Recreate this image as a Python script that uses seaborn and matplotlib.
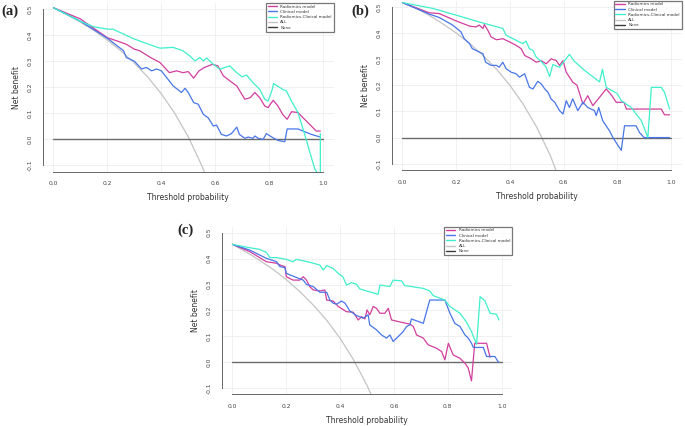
import numpy as np
import pandas as pd
import seaborn as sns
import matplotlib
matplotlib.use('Agg')
import matplotlib.pyplot as plt
from matplotlib.lines import Line2D


# ---- panel (a) ----
a_rad_x = [0, 0.1, 0.2, 0.235, 0.27, 0.3, 0.32, 0.36, 0.395, 0.43, 0.457, 0.48, 0.5, 0.52, 0.54, 0.56, 0.59, 0.61,
           0.63, 0.655, 0.68, 0.71, 0.73, 0.747, 0.765, 0.784, 0.796, 0.815, 0.833, 0.85, 0.867, 0.883, 0.907,
           0.926, 0.95, 0.975, 0.99]
a_rad_y = [0.505, 0.462, 0.39, 0.378, 0.365, 0.346, 0.34, 0.314, 0.295, 0.256, 0.263, 0.256, 0.26, 0.235, 0.263,
           0.276, 0.288, 0.282, 0.244, 0.224, 0.205, 0.154, 0.16, 0.18, 0.16, 0.128, 0.122, 0.15, 0.128, 0.096,
           0.077, 0.106, 0.103, 0.083, 0.058, 0.032, 0.032]
a_cli_x = [0, 0.1, 0.2, 0.235, 0.26, 0.27, 0.3, 0.327, 0.345, 0.364, 0.383, 0.4, 0.42, 0.444, 0.475, 0.488, 0.5,
           0.52, 0.537, 0.556, 0.574, 0.593, 0.605, 0.623, 0.642, 0.66, 0.68, 0.69, 0.71, 0.722, 0.74, 0.747, 0.76,
           0.778, 0.79, 0.81, 0.833, 0.858, 0.867, 0.907, 0.926, 0.957, 0.99]
a_cli_y = [0.505, 0.453, 0.388, 0.36, 0.34, 0.314, 0.3, 0.27, 0.276, 0.263, 0.27, 0.263, 0.237, 0.205, 0.18, 0.196,
           0.18, 0.141, 0.135, 0.096, 0.083, 0.051, 0.055, 0.019, 0.013, 0.022, 0.047, 0.019, 0.004, 0.009, 0.004,
           0.013, 0.004, 0.0, 0.022, 0.009, -0.004, -0.009, 0.04, 0.04, 0.032, 0.019, 0.009]
a_com_x = [0, 0.05, 0.1, 0.15, 0.2, 0.22, 0.26, 0.3, 0.345, 0.395, 0.444, 0.48, 0.506, 0.525, 0.543, 0.556, 0.568,
           0.593, 0.617, 0.636, 0.654, 0.68, 0.7, 0.716, 0.74, 0.765, 0.784, 0.796, 0.81, 0.817, 0.85, 0.864,
           0.883, 0.907, 0.932, 0.957, 0.97, 0.985, 0.99, 0.99]
a_com_y = [0.505, 0.479, 0.453, 0.432, 0.423, 0.423, 0.404, 0.385, 0.368, 0.35, 0.353, 0.34, 0.32, 0.301, 0.314,
           0.301, 0.312, 0.288, 0.269, 0.276, 0.282, 0.256, 0.24, 0.247, 0.218, 0.192, 0.154, 0.147, 0.186, 0.214,
           0.192, 0.186, 0.147, 0.103, 0.019, -0.07, -0.115, -0.135, -0.135, 0.022]
a_all_x = [0, 0.05, 0.1, 0.15, 0.2, 0.25, 0.3, 0.35, 0.4, 0.45, 0.5, 0.55, 0.57]
a_all_y = [0.505, 0.479, 0.45, 0.418, 0.381, 0.34, 0.293, 0.239, 0.175, 0.1, 0.01, -0.1, -0.151]

# ---- panel (b) ----
b_rad_x = [0, 0.1, 0.137, 0.2, 0.25, 0.274, 0.286, 0.3, 0.305, 0.318, 0.33, 0.35, 0.374, 0.4, 0.423, 0.442, 0.455,
           0.48, 0.498, 0.517, 0.535, 0.554, 0.573, 0.585, 0.598, 0.61, 0.634, 0.65, 0.672, 0.69, 0.709, 0.734,
           0.759, 0.78, 0.796, 0.825, 0.834, 0.964, 0.976, 0.995]
b_rad_y = [0.516, 0.477, 0.474, 0.446, 0.426, 0.423, 0.43, 0.417, 0.432, 0.41, 0.385, 0.374, 0.378, 0.365, 0.353,
           0.34, 0.314, 0.301, 0.288, 0.294, 0.282, 0.301, 0.294, 0.276, 0.294, 0.25, 0.212, 0.2, 0.128, 0.16,
           0.122, 0.154, 0.186, 0.16, 0.135, 0.135, 0.109, 0.109, 0.087, 0.087]
b_cli_x = [0, 0.1, 0.137, 0.187, 0.218, 0.23, 0.25, 0.26, 0.286, 0.3, 0.31, 0.33, 0.35, 0.36, 0.374, 0.386, 0.405,
           0.423, 0.436, 0.455, 0.473, 0.486, 0.504, 0.517, 0.53, 0.542, 0.554, 0.567, 0.585, 0.598, 0.61, 0.622,
           0.634, 0.653, 0.672, 0.69, 0.715, 0.722, 0.731, 0.746, 0.771, 0.784, 0.8, 0.815, 0.827, 0.87, 0.883,
           0.9, 0.995]
b_cli_y = [0.516, 0.472, 0.459, 0.43, 0.404, 0.378, 0.359, 0.34, 0.327, 0.32, 0.288, 0.276, 0.276, 0.269, 0.288,
           0.263, 0.25, 0.244, 0.231, 0.244, 0.192, 0.186, 0.215, 0.205, 0.186, 0.173, 0.147, 0.135, 0.103, 0.09,
           0.141, 0.115, 0.148, 0.103, 0.135, 0.115, 0.103, 0.084, 0.115, 0.064, 0.026, 0.0, -0.026, -0.049,
           0.045, 0.045, 0.019, 0.0, 0.0]
b_com_x = [0, 0.112, 0.2, 0.286, 0.374, 0.386, 0.423, 0.448, 0.46, 0.473, 0.486, 0.498, 0.517, 0.535, 0.548, 0.56,
           0.585, 0.622, 0.64, 0.678, 0.734, 0.745, 0.759, 0.8, 0.815, 0.852, 0.89, 0.914, 0.927, 0.964, 0.976,
           0.995]
b_com_y = [0.516, 0.494, 0.468, 0.442, 0.417, 0.391, 0.372, 0.359, 0.369, 0.34, 0.333, 0.308, 0.291, 0.269, 0.233,
           0.279, 0.269, 0.318, 0.292, 0.257, 0.213, 0.261, 0.192, 0.168, 0.141, 0.115, 0.064, 0.0, 0.192, 0.192,
           0.173, 0.109]
b_all_x = [0, 0.05, 0.1, 0.15, 0.2, 0.25, 0.3, 0.35, 0.4, 0.45, 0.5, 0.55, 0.6]
b_all_y = [0.516, 0.495, 0.467, 0.435, 0.4, 0.36, 0.314, 0.262, 0.2, 0.127, 0.04, -0.067, -0.2]

# ---- panel (c) ----
c_rad_x = [0, 0.064, 0.126, 0.164, 0.182, 0.195, 0.2, 0.225, 0.25, 0.263, 0.275, 0.287, 0.3, 0.325, 0.343, 0.35,
           0.374, 0.393, 0.424, 0.449, 0.467, 0.48, 0.492, 0.5, 0.51, 0.523, 0.535, 0.548, 0.566, 0.579, 0.591,
           0.628, 0.659, 0.672, 0.684, 0.709, 0.727, 0.758, 0.777, 0.789, 0.802, 0.82, 0.845, 0.864, 0.876, 0.888,
           0.9, 0.944, 0.957]
c_rad_y = [0.455, 0.427, 0.388, 0.382, 0.373, 0.369, 0.33, 0.317, 0.317, 0.33, 0.317, 0.292, 0.279, 0.275, 0.279,
           0.24, 0.236, 0.215, 0.195, 0.193, 0.163, 0.176, 0.167, 0.202, 0.183, 0.215, 0.208, 0.189, 0.189, 0.208,
           0.163, 0.154, 0.147, 0.138, 0.105, 0.093, 0.067, 0.054, 0.041, 0.009, 0.073, 0.028, 0.015, -0.004,
           -0.023, -0.072, 0.073, 0.073, 0.019]
c_cli_x = [0, 0.064, 0.126, 0.164, 0.176, 0.195, 0.2, 0.238, 0.263, 0.275, 0.3, 0.325, 0.35, 0.362, 0.374, 0.387,
           0.405, 0.418, 0.436, 0.461, 0.486, 0.504, 0.51, 0.535, 0.554, 0.572, 0.585, 0.597, 0.616, 0.634, 0.647,
           0.659, 0.665, 0.709, 0.721, 0.733, 0.789, 0.808, 0.826, 0.845, 0.864, 0.876, 0.888, 0.895, 0.932, 0.944,
           0.975, 0.988, 0.99]
c_cli_y = [0.455, 0.433, 0.401, 0.388, 0.369, 0.365, 0.343, 0.327, 0.317, 0.3, 0.292, 0.27, 0.27, 0.24, 0.228,
           0.224, 0.236, 0.228, 0.198, 0.18, 0.17, 0.183, 0.144, 0.125, 0.105, 0.093, 0.105, 0.08, 0.099, 0.118,
           0.138, 0.144, 0.167, 0.15, 0.195, 0.24, 0.24, 0.189, 0.15, 0.138, 0.105, 0.093, 0.073, 0.057, 0.057,
           0.022, 0.022, 0.0, 0.0]
c_com_x = [0, 0.064, 0.1, 0.126, 0.139, 0.164, 0.2, 0.225, 0.238, 0.287, 0.325, 0.337, 0.35, 0.374, 0.393, 0.41,
           0.424, 0.442, 0.461, 0.473, 0.541, 0.548, 0.585, 0.597, 0.628, 0.64, 0.709, 0.733, 0.746, 0.789, 0.808,
           0.845, 0.87, 0.888, 0.907, 0.92, 0.938, 0.957, 0.981, 0.99]
c_com_y = [0.455, 0.442, 0.436, 0.424, 0.404, 0.404, 0.397, 0.388, 0.397, 0.386, 0.375, 0.356, 0.373, 0.362, 0.343,
           0.33, 0.298, 0.307, 0.301, 0.283, 0.262, 0.298, 0.292, 0.317, 0.314, 0.296, 0.285, 0.275, 0.257, 0.24,
           0.215, 0.189, 0.154, 0.118, 0.069, 0.253, 0.237, 0.189, 0.185, 0.163]
c_all_x = [0, 0.05, 0.1, 0.15, 0.2, 0.25, 0.3, 0.35, 0.4, 0.45, 0.5, 0.53]
c_all_y = [0.455, 0.426, 0.394, 0.359, 0.319, 0.273, 0.221, 0.162, 0.092, 0.009, -0.09, -0.16]

names = ['Radiomics model', 'Clinical model', 'Radiomics-Clinical model', 'ALL', 'None']
colors = {'Radiomics model': '#D23E9E', 'Clinical model': '#4876E8', 'Radiomics-Clinical model': '#3FEFCB',
          'ALL': '#C4C4C4', 'None': '#3A3A3A'}

panels = {
    'a': [(a_rad_x, a_rad_y), (a_cli_x, a_cli_y), (a_com_x, a_com_y), (a_all_x, a_all_y)],
    'b': [(b_rad_x, b_rad_y), (b_cli_x, b_cli_y), (b_com_x, b_com_y), (b_all_x, b_all_y)],
    'c': [(c_rad_x, c_rad_y), (c_cli_x, c_cli_y), (c_com_x, c_com_y), (c_all_x, c_all_y)],
}

# axes boxes in pixels: left, top, right, bottom
W, H = 685, 426
boxes = {'a': (42.7, 2.8, 333.8, 171.7), 'b': (391.7, 0.5, 681.7, 170.0), 'c': (221.7, 226.5, 512.4, 394.3)}
tags = {'a': (1, 11), 'b': (351, 11), 'c': (177, 230)}

sns.set_style('white')
fig = plt.figure(figsize=(6.85, 4.26), dpi=100)

for key, series in panels.items():
    l, t, r, b = boxes[key]
    ax = fig.add_axes([l / W, 1 - b / H, (r - l) / W, (b - t) / H])
    ax.set_xlim(-0.04, 1.04)
    ax.set_ylim(-0.124, 0.524)
    xt = [0, 0.2, 0.4, 0.6, 0.8, 1.0]
    yt = [-0.1, 0, 0.1, 0.2, 0.3, 0.4, 0.5]
    for v in xt:
        ax.axvline(v, color='#EEEEEE', lw=0.6, zorder=0)
    for v in yt:
        ax.axhline(v, color='#EEEEEE', lw=0.6, zorder=0)

    # ALL first, then None, then models on top
    ax_x, ax_y = series[3]
    sns.lineplot(x=ax_x, y=ax_y, color=colors['ALL'], lw=0.9, estimator=None, sort=False, ax=ax)
    ax.plot([0, 1], [0, 0], color='#6A6A6A', lw=1.0, zorder=2)
    for name, (sx, sy) in zip(names[:3], series[:3]):
        df = pd.DataFrame({'x': sx, 'y': sy})
        sns.lineplot(data=df, x='x', y='y', color=colors[name], lw=0.9, estimator=None, sort=False, ax=ax,
                     zorder=3)

    ax.set_xticks(xt)
    ax.set_xticklabels(['0.0', '0.2', '0.4', '0.6', '0.8', '1.0'])
    ax.set_yticks(yt)
    ax.set_yticklabels(['-0.1', '0.0', '0.1', '0.2', '0.3', '0.4', '0.5'], rotation=90, va='center')
    ax.tick_params(labelsize=4.3, colors='#444444', length=3, width=0.6, pad=4)
    for s in ['top', 'right']:
        ax.spines[s].set_visible(False)
    for s in ['left', 'bottom']:
        ax.spines[s].set_color('#666666')
        ax.spines[s].set_linewidth(0.7)
    ax.spines['bottom'].set_bounds(0, 1)
    ax.spines['left'].set_bounds(-0.1, 0.5)
    ax.set_xlabel('Threshold probability', fontsize=5.5, color='#333333', labelpad=5)
    ax.set_ylabel('Net benefit', fontsize=5.5, color='#333333', labelpad=5)

    handles = [Line2D([], [], color=colors[n], lw=1.0) for n in names]
    leg = ax.legend(handles, names, loc='upper right', bbox_to_anchor=(1.0, 1.0), borderaxespad=0,
                    fontsize=3.0, frameon=True, fancybox=False, handlelength=2.2, handletextpad=0.9,
                    labelspacing=0.3, borderpad=0.45)
    leg.get_frame().set_edgecolor('#555555')
    leg.get_frame().set_linewidth(0.9)
    for txt in leg.get_texts():
        txt.set_color('#333333')

    tx, ty = tags[key]
    fig.text(tx / W, 1 - ty / H, '(' + key + ')', fontsize=10.5, fontweight='bold',
             family='Liberation Serif', va='center', ha='left')

fig.savefig('out.png', dpi=100)
